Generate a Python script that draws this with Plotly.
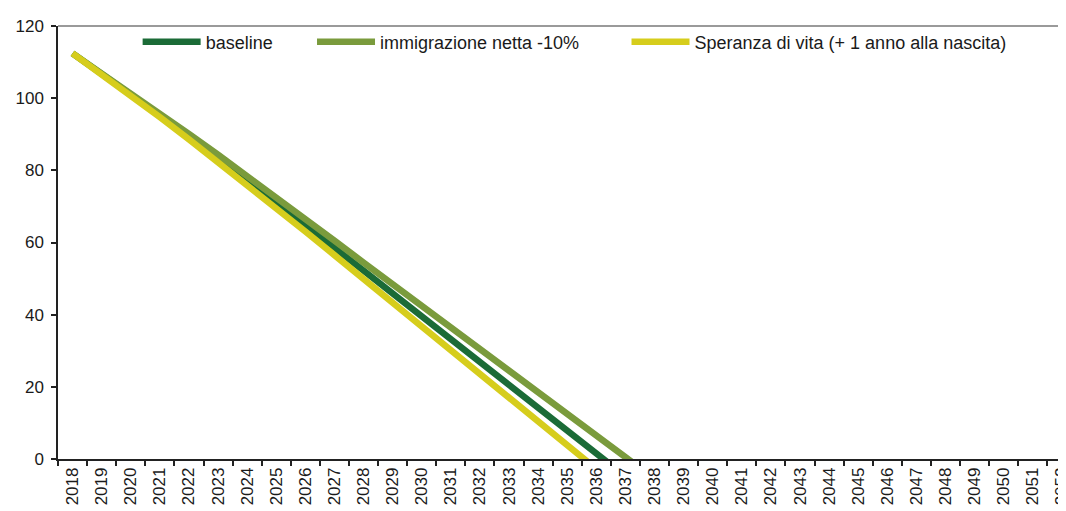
import plotly.graph_objects as go

years = [str(y) for y in range(2018, 2053)]

baseline = [112.4, 106.8, 101.1, 95.3, 89.4, 83.4, 77.3, 71.1, 64.85, 58.55,
            52.25, 45.95, 39.65, 33.3, 26.95, 20.6, 14.25, 7.9, 1.55, -4.8]
immigrazione = [112.4, 106.9, 101.35, 95.75, 90.1, 84.35, 78.5, 72.55, 66.55, 60.5,
                54.45, 48.4, 42.4, 36.35, 30.3, 24.25, 18.2, 12.2, 6.2, 0.5, -5.4]
speranza = [112.4, 106.65, 100.75, 94.75, 88.6, 82.35, 76.0, 69.55, 63.05, 56.5,
            49.95, 43.4, 36.85, 30.25, 23.65, 17.05, 10.45, 3.85, -2.75]

names = ["baseline", "immigrazione netta -10%", "Speranza di vita (+ 1 anno alla nascita)"]
colors = ["#1B6B37", "#7A9B3C", "#D6CD1C"]
series = [baseline, immigrazione, speranza]
legends = ["legend", "legend2", "legend3"]

def pad(vals):
    return vals + [None] * (len(years) - len(vals))

fig = go.Figure()
for name, col, vals, lg in zip(names, colors, series, legends):
    fig.add_trace(go.Scatter(
        x=years, y=pad(vals), mode="lines", name=name, showlegend=True,
        line=dict(color=col, width=6.5), legend=lg, connectgaps=False,
    ))

font_family = "Liberation Sans, Arial, sans-serif"
leg_common = dict(orientation="h", yanchor="middle", y=0.963, xanchor="left",
                  bgcolor="rgba(0,0,0,0)", itemwidth=58, visible=True,
                  font=dict(family=font_family, size=18, color="#1a1a1a"))

# page body has an 8px margin: figure sized/offset to compensate
fig.update_layout(
    width=1058, height=503, showlegend=True,
    margin=dict(l=50, r=0, t=18, b=52),
    paper_bgcolor="white", plot_bgcolor="white",
    font=dict(family=font_family, size=17, color="#1a1a1a"),
    legend=dict(x=0.079, **leg_common),
    legend2=dict(x=0.252, **leg_common),
    legend3=dict(x=0.564, **leg_common),
    xaxis=dict(
        type="category", categoryorder="array", categoryarray=years,
        range=[-0.5, 34.14], tickangle=-90, tickson="boundaries",
        ticks="outside", ticklen=5, tickwidth=1.5, tickcolor="#222",
        showline=True, linecolor="#222", linewidth=1.5, showgrid=False,
        zeroline=False, tickfont=dict(size=17), automargin=False,
        ticklabeloverflow="allow",
    ),
    yaxis=dict(
        range=[0, 120], dtick=20, ticks="outside", ticklen=5, tickwidth=1.5,
        tickcolor="#222", showline=True, linecolor="#222", linewidth=1.5,
        showgrid=False, zeroline=False, tickfont=dict(size=17),
        ticklabelstandoff=4, automargin=False,
    ),
    shapes=[dict(type="line", xref="paper", yref="paper", x0=0, x1=1, y0=1, y1=1,
                 line=dict(color="#9A9A9A", width=2))],
)

fig.write_html("out.html")
